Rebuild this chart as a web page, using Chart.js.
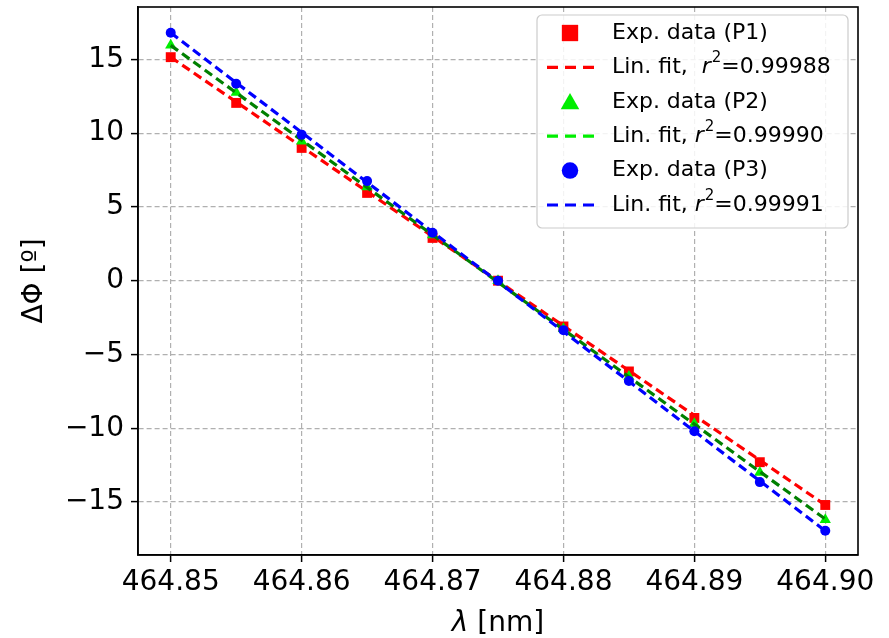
<!DOCTYPE html>
<html>
<head>
<meta charset="utf-8">
<script src="https://cdn.jsdelivr.net/npm/chart.js@4.4.0/dist/chart.umd.min.js"></script>
<style>
  html, body { margin: 0; padding: 0; background: #fff; }
  #wrap { width: 889px; height: 638px; }
</style>
</head>
<body>
<div id="wrap"><canvas id="chart" width="889" height="638"></canvas></div>
<script>
// values
const wavelengths = [464.85, 464.855, 464.86, 464.865, 464.87, 464.875, 464.88, 464.885, 464.89, 464.895, 464.90];
const phaseP1 = [15.15, 12.05, 9.0, 5.95, 2.9, 0, -3.1, -6.15, -9.3, -12.3, -15.2];
const phaseP2 = [15.95, 12.75, 9.45, 6.35, 3.1, 0, -3.25, -6.5, -9.7, -13.0, -16.2];
const phaseP3 = [16.8, 13.35, 9.9, 6.75, 3.25, 0, -3.35, -6.8, -10.2, -13.65, -16.95];
const fitX = [464.85, 464.90];
const fitP1 = [15.15, -15.2];
const fitP2 = [15.95, -16.15];
const fitP3 = [16.8, -16.95];
const r2Values = ['0.99988', '0.99990', '0.99991'];
const xTicks = [464.85, 464.86, 464.87, 464.88, 464.89, 464.90];
const yTicks = [-15, -10, -5, 0, 5, 10, 15];

const FONT = 'DejaVu Sans';
const pts = (xs, ys) => xs.map((x, i) => ({ x: x, y: ys[i] }));

function dataSet(label, ys, color, style, radius) {
    return {
        label: label, data: pts(wavelengths, ys), showLine: false,
        pointStyle: style, pointRadius: radius, pointHoverRadius: radius,
        backgroundColor: color, borderColor: color, borderWidth: 0
    };
}
function fitSet(label, ys, color, legendColor, r2, gap) {
    return {
        label: label, data: pts(fitX, ys), showLine: true, fill: false,
        borderColor: color, borderWidth: 3.2, borderDash: [9, 5], pointRadius: 0,
        legendColor: legendColor, r2: r2, gap: gap
    };
}

const datasets = [
    dataSet('Exp. data (P1)', phaseP1, '#ff0000', 'rect', 7),
    fitSet('Lin. fit,', fitP1, '#ff0000', '#ff0000', r2Values[0], '  '),
    dataSet('Exp. data (P2)', phaseP2, '#00ee00', 'triangle', 6.5),
    fitSet('Lin. fit,', fitP2, '#008000', '#00ee00', r2Values[1], ' '),
    dataSet('Exp. data (P3)', phaseP3, '#0000ff', 'circle', 5),
    fitSet('Lin. fit,', fitP3, '#0000ff', '#0000ff', r2Values[2], ' ')
];
// later datasets on top, like the original plot
datasets.forEach((d, i) => { d.order = datasets.length - i; });

const framePlugin = {
    id: 'frame',
    afterDatasetsDraw(chart) {
        const { ctx, chartArea: a } = chart;
        ctx.save();
        ctx.strokeStyle = '#000';
        ctx.lineWidth = 1.6;
        ctx.strokeRect(a.left, a.top, a.right - a.left, a.bottom - a.top);
        ctx.restore();
    }
};

const xTitlePlugin = {
    id: 'xTitle',
    afterDraw(chart) {
        const { ctx, chartArea: a } = chart;
        ctx.save();
        ctx.fillStyle = '#000';
        ctx.textBaseline = 'alphabetic';
        const it = 'italic 28px "' + FONT + '"', up = '28px "' + FONT + '"';
        ctx.font = it; const w1 = ctx.measureText('λ').width;
        ctx.font = up; const w2 = ctx.measureText(' [nm]').width;
        let x = (a.left + a.right) / 2 - (w1 + w2) / 2;
        const y = 631;
        ctx.font = it; ctx.fillText('λ', x, y); x += w1;
        ctx.font = up; ctx.fillText(' [nm]', x, y);
        ctx.restore();
    }
};

const legendPlugin = {
    id: 'boxLegend',
    afterDraw(chart) {
        const ctx = chart.ctx;
        const bx = 537, by = 15, bw = 311, bh = 213;
        ctx.save();
        ctx.beginPath();
        ctx.roundRect(bx, by, bw, bh, 5);
        ctx.fillStyle = 'rgba(255,255,255,0.85)';
        ctx.fill();
        ctx.strokeStyle = '#cccccc';
        ctx.lineWidth = 1.2;
        ctx.stroke();
        const main = '22px "' + FONT + '"';
        chart.data.datasets.forEach((d, i) => {
            const cy = 33 + i * 34.4;
            if (d.showLine) {
                ctx.strokeStyle = d.legendColor;
                ctx.lineWidth = 3.2;
                ctx.setLineDash([11, 7]);
                ctx.beginPath();
                ctx.moveTo(547, cy);
                ctx.lineTo(594, cy);
                ctx.stroke();
                ctx.setLineDash([]);
            } else {
                ctx.fillStyle = d.backgroundColor;
                Chart.helpers.drawPoint(ctx, {
                    pointStyle: d.pointStyle, radius: d.pointRadius * 1.65,
                    rotation: 0, borderWidth: 0
                }, 570, cy + (d.pointStyle === 'triangle' ? 2 : 0));
            }
            ctx.fillStyle = '#000';
            ctx.textBaseline = 'middle';
            let x = 612;
            ctx.font = main;
            if (d.showLine) {
                const head = d.label + d.gap;
                ctx.fillText(head, x, cy); x += ctx.measureText(head).width;
                ctx.font = 'italic 22px "' + FONT + '"';
                ctx.fillText('r', x, cy); x += ctx.measureText('r').width + 1;
                ctx.font = '15px "' + FONT + '"';
                ctx.fillText('2', x, cy - 9); x += ctx.measureText('2').width;
                ctx.font = main;
                ctx.fillText('=' + d.r2, x, cy);
            } else {
                ctx.fillText(d.label, x, cy);
            }
        });
        ctx.restore();
    }
};

const minus = v => (v < 0 ? '\u2212' + Math.abs(v) : String(v));

new Chart(document.getElementById('chart'), {
    type: 'scatter',
    data: { datasets: datasets },
    options: {
        responsive: false,
        devicePixelRatio: 1,
        animation: false,
        layout: { padding: { left: 0, right: 31, top: 4, bottom: 0 } },
        plugins: { legend: { display: false }, tooltip: { enabled: false } },
        scales: {
            x: {
                type: 'linear', min: 464.8475, max: 464.9025,
                afterFit: s => { s.height = 83; s.paddingLeft = 0; s.paddingRight = 0; },
                afterBuildTicks: s => { s.ticks = xTicks.map(v => ({ value: v })); },
                ticks: {
                    callback: v => Number(v).toFixed(2), color: '#000',
                    font: { family: FONT, size: 28 }, padding: 4, maxRotation: 0, autoSkip: false
                },
                grid: { color: '#b0b0b0', lineWidth: 1.2, tickColor: '#000', tickLength: 7, tickWidth: 1.5, tickBorderDash: [] },
                border: { display: true, color: '#000', width: 1.6, dash: [5, 3] }
            },
            y: {
                type: 'linear', min: -18.59, max: 18.55,
                afterFit: s => { s.width = 138; s.paddingTop = 0; s.paddingBottom = 0; },
                afterBuildTicks: s => { s.ticks = yTicks.map(v => ({ value: v })); },
                ticks: { callback: v => minus(v), color: '#000', font: { family: FONT, size: 28 }, padding: 7 },
                grid: { color: '#b0b0b0', lineWidth: 1.2, tickColor: '#000', tickLength: 7, tickWidth: 1.5, tickBorderDash: [] },
                border: { display: true, color: '#000', width: 1.6, dash: [5, 3] },
                title: {
                    display: true, text: 'ΔΦ [º]', color: '#000',
                    font: { family: FONT, size: 28, lineHeight: 1.2 }, padding: { top: 18, bottom: 0 }
                }
            }
        }
    },
    plugins: [framePlugin, xTitlePlugin, legendPlugin]
});
</script>
</body>
</html>
